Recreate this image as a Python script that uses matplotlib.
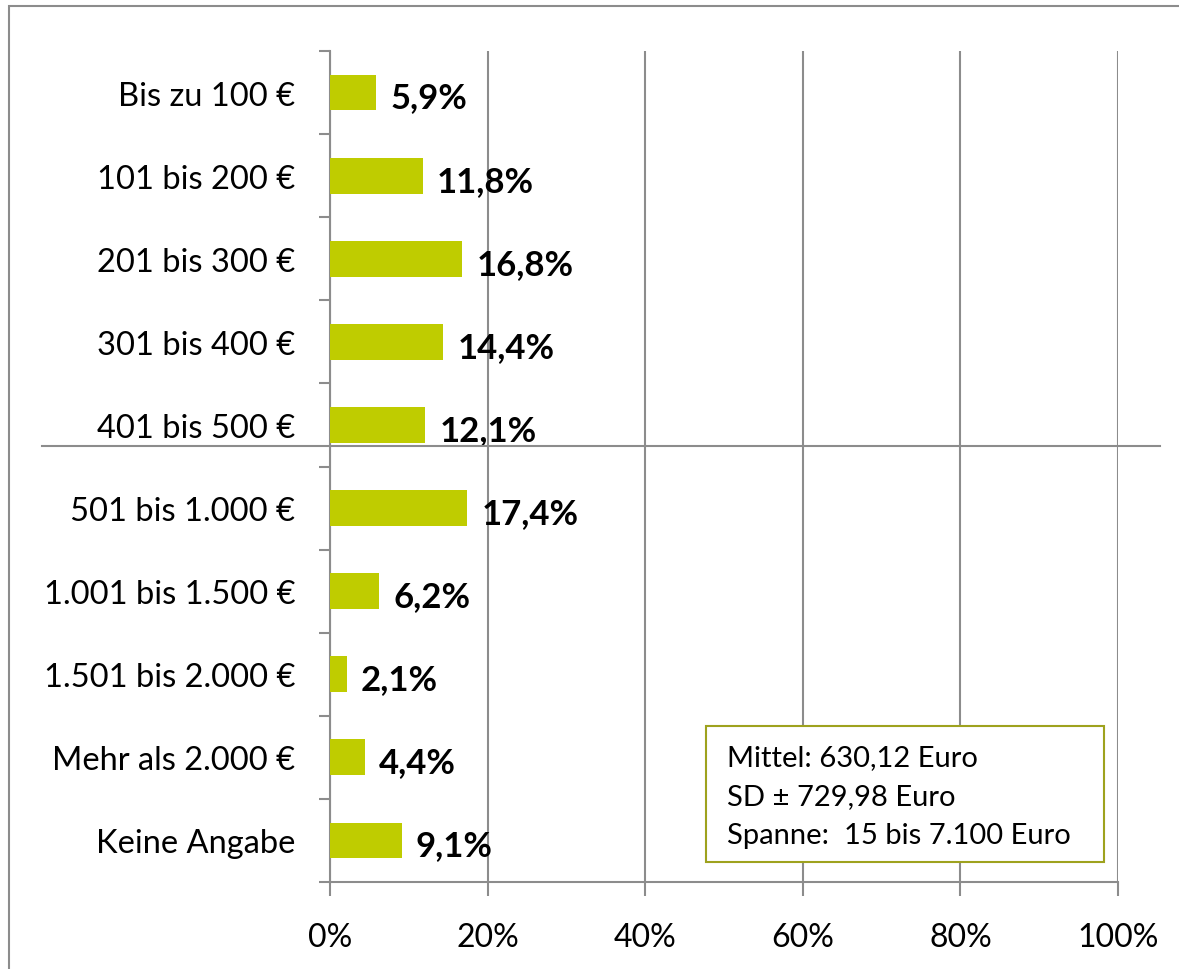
import matplotlib.pyplot as plt
from matplotlib.lines import Line2D
from matplotlib.patches import Rectangle

categories = [
    "Bis zu 100 €", "101 bis 200 €", "201 bis 300 €", "301 bis 400 €",
    "401 bis 500 €", "501 bis 1.000 €", "1.001 bis 1.500 €",
    "1.501 bis 2.000 €", "Mehr als 2.000 €", "Keine Angabe",
]
values = [5.9, 11.8, 16.8, 14.4, 12.1, 17.4, 6.2, 2.1, 4.4, 9.1]
xticks = [0, 20, 40, 60, 80, 100]
stats_text = "Mittel: 630,12 Euro\nSD ± 729,98 Euro\nSpanne:  15 bis 7.100 Euro"

BAR = "#bfcc00"
GRID = "#8c8c8c"
plt.rcParams["font.family"] = ["Lato", "DejaVu Sans"]

fig = plt.figure(figsize=(11.79, 9.70), dpi=100)
ax = fig.add_axes([330 / 1179, 1 - 883 / 970, 788 / 1179, 831 / 970])

ypos = list(range(len(categories)))
ax.barh(ypos, values, height=0.43, color=BAR, zorder=3)
for y, v in zip(ypos, values):
    ax.text(v + 1.8, y + 0.06, f"{v:.1f}%".replace(".", ","), va="center", ha="left",
            fontsize=25, fontweight="bold", zorder=4)

ax.set_xlim(0, 100)
ax.set_ylim(len(categories) - 0.5, -0.5)
ax.set_xticks(xticks)
ax.set_xticklabels([f"{t}%" for t in xticks], fontsize=23)
ax.set_yticks(ypos)
ax.set_yticklabels(categories, fontsize=23.5)
ax.set_yticks([i - 0.5 for i in range(len(categories) + 1)], minor=True)
ax.tick_params(axis="y", which="major", length=0, pad=25)
ax.tick_params(axis="y", which="minor", length=8, width=1.5, color=GRID)
ax.tick_params(axis="x", length=10, width=1.5, color=GRID, pad=19)
ax.grid(axis="x", color=GRID, linewidth=1.5, zorder=0)

for s in ["top", "right"]:
    ax.spines[s].set_visible(False)
for s in ["left", "bottom"]:
    ax.spines[s].set_color(GRID)
    ax.spines[s].set_linewidth(1.5)

# statistics box
ax.add_patch(Rectangle((376 / 788, 20 / 831), 398 / 788, 136 / 831, transform=ax.transAxes,
                       facecolor="white", edgecolor="#9ea21e", linewidth=1.5,
                       zorder=4, clip_on=False))
ax.text(397 / 788, 138 / 831, stats_text, transform=ax.transAxes, fontsize=21,
        va="top", ha="left", linespacing=1.62, zorder=5)

# separator line and outer frame
fig.add_artist(Line2D([42 / 1179, 1160 / 1179], [1 - 447 / 970] * 2, color=GRID, linewidth=1.5))
fig.add_artist(Rectangle((9 / 1179, -0.1), 1.2, 1.1 - 7 / 970, fill=False,
                         edgecolor="#8c8c8c", linewidth=1.5))

fig.savefig("out.png", dpi=100)
